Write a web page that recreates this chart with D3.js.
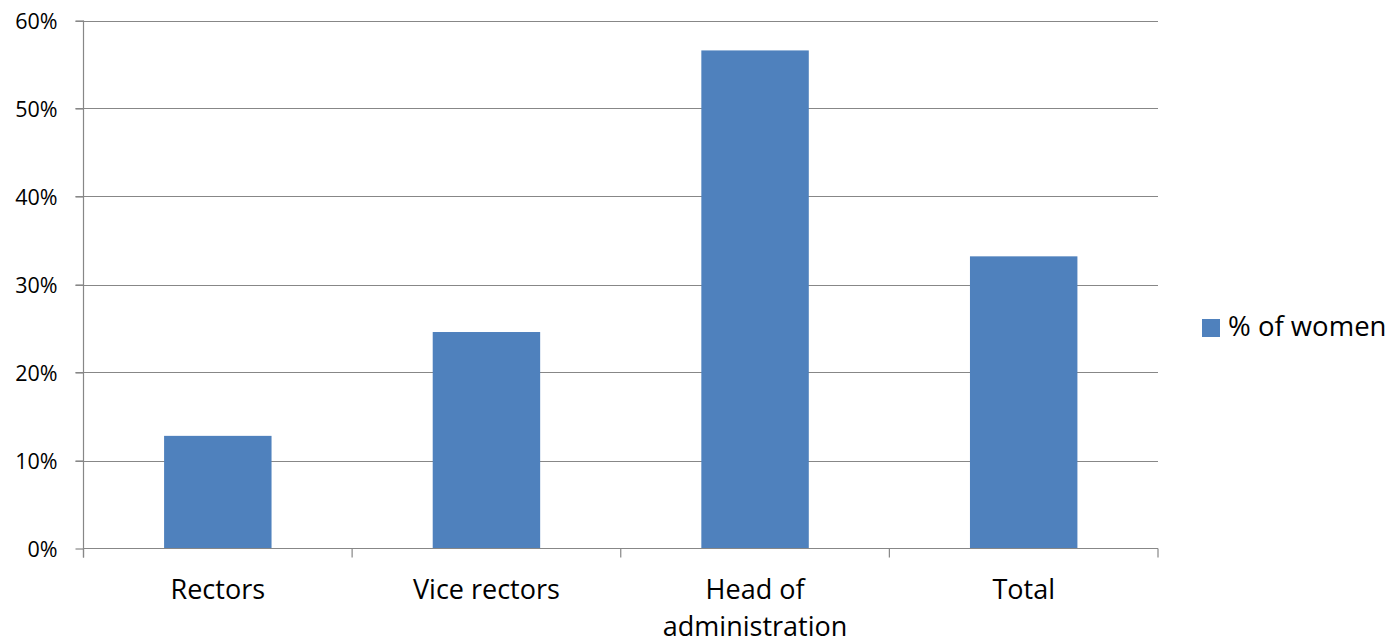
<!DOCTYPE html>
<html>
<head>
<meta charset="utf-8">
<script src="https://cdn.jsdelivr.net/npm/d3@7"></script>
<style>
  html, body { margin: 0; padding: 0; background: #fff; }
  svg text { font-family: "Open Sans", "Lato", sans-serif; fill: #000; }
</style>
</head>
<body>
<svg id="chart" width="1395" height="643"></svg>
<script>
// Share of women by position
const categories = ["Rectors", "Vice rectors", "Head of administration", "Total"];
const womenShare = [0.128, 0.246, 0.566, 0.332];
const yTicks = [0, 0.1, 0.2, 0.3, 0.4, 0.5, 0.6];
const seriesName = "% of women";

const svg = d3.select("#chart");
const plot = { left: 83.5, right: 1158, top: 20.5, bottom: 548.5 };

const x = d3.scaleBand()
  .domain(categories)
  .range([plot.left, plot.right])
  .paddingInner(0.6)
  .paddingOuter(0.3);

const y = d3.scaleLinear()
  .domain([0, 0.6])
  .range([plot.bottom, plot.top]);

const gridColor = "#878787";

// Horizontal gridlines
svg.append("g")
  .selectAll("line")
  .data(yTicks.filter(d => d > 0))
  .join("line")
  .attr("x1", plot.left - 8)
  .attr("x2", plot.right)
  .attr("y1", d => Math.round(y(d)) + 0.5)
  .attr("y2", d => Math.round(y(d)) + 0.5)
  .attr("stroke", gridColor)
  .attr("stroke-width", 1.2);

// Bars
svg.append("g")
  .selectAll("rect")
  .data(categories.map((c, i) => ({ c, v: womenShare[i] })))
  .join("rect")
  .attr("x", d => x(d.c))
  .attr("width", x.bandwidth())
  .attr("y", d => y(d.v))
  .attr("height", d => y(0) - y(d.v))
  .attr("fill", "#4F81BD");

// Y axis
const yAxis = d3.axisLeft(y)
  .tickValues(yTicks)
  .tickFormat(d3.format(".0%"))
  .tickSize(8)
  .tickPadding(18);

const gy = svg.append("g")
  .attr("transform", `translate(${plot.left},0)`)
  .call(yAxis);
gy.select(".domain").attr("stroke", gridColor).attr("stroke-width", 1.2)
  .attr("d", `M0,${plot.top}V${plot.bottom + 9}`);
gy.selectAll(".tick line").attr("stroke", gridColor).attr("stroke-width", 1.2);
gy.selectAll(".tick text")
  .style("font-size", "21.5px")
  .attr("dy", "0.35em");

// X axis with category boundaries as ticks
const gx = svg.append("g");
gx.append("line")
  .attr("x1", plot.left).attr("x2", plot.right)
  .attr("y1", plot.bottom).attr("y2", plot.bottom)
  .attr("stroke", gridColor).attr("stroke-width", 1.2);
gx.selectAll("line.tick")
  .data(d3.range(categories.length + 1))
  .join("line")
  .attr("class", "tick")
  .attr("x1", i => x.range()[0] + i * (x.range()[1] - x.range()[0]) / categories.length)
  .attr("x2", i => x.range()[0] + i * (x.range()[1] - x.range()[0]) / categories.length)
  .attr("y1", plot.bottom)
  .attr("y2", plot.bottom + 9)
  .attr("stroke", gridColor).attr("stroke-width", 1.2);

// Category labels, wrapped to fit the band
const labelLines = {
  "Rectors": ["Rectors"],
  "Vice rectors": ["Vice rectors"],
  "Head of administration": ["Head of", "administration"],
  "Total": ["Total"]
};
const labels = gx.selectAll("text.cat")
  .data(categories)
  .join("text")
  .attr("class", "cat")
  .attr("text-anchor", "middle")
  .attr("x", d => x(d) + x.bandwidth() / 2)
  .attr("y", 599)
  .style("font-size", "27px");
labels.each(function(d) {
  const t = d3.select(this);
  labelLines[d].forEach((line, i) => {
    t.append("tspan")
      .attr("x", x(d) + x.bandwidth() / 2)
      .attr("dy", i === 0 ? 0 : 37)
      .text(line);
  });
});

// Legend
const legend = svg.append("g").attr("transform", "translate(1202,319)");
legend.append("rect").attr("width", 18).attr("height", 18).attr("fill", "#4F81BD");
legend.append("text").attr("x", 26).attr("y", 17).style("font-size", "27.5px").text(seriesName);
</script>
</body>
</html>
